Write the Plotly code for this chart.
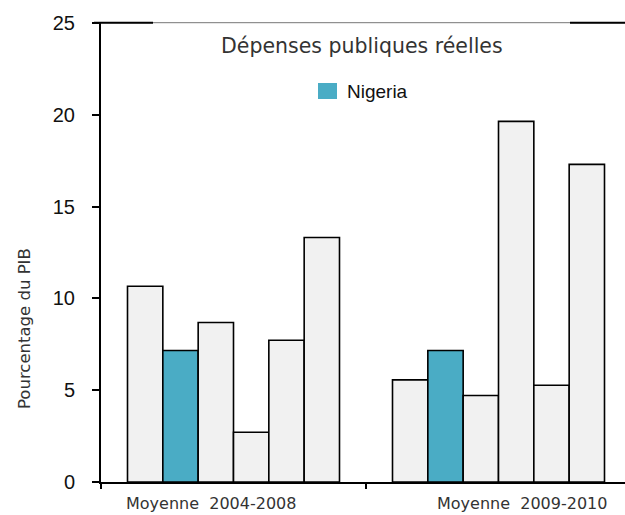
import plotly.graph_objects as go

# ---- data ----
categories = ["Moyenne  2004-2008", "Moyenne  2009-2010"]
series_names = ["Pays 1", "Nigeria", "Pays 3", "Pays 4", "Pays 5", "Pays 6"]
series_values = [
    [10.66, 5.56],   # Pays 1
    [7.16, 7.16],    # Nigeria
    [8.69, 4.71],    # Pays 3
    [2.71, 19.64],   # Pays 4
    [7.72, 5.27],    # Pays 5
    [13.32, 17.30],  # Pays 6
]
y_ticks = [0, 5, 10, 15, 20, 25]
title_text = "Dépenses publiques réelles"
y_title = "Pourcentage du PIB"
legend_label = "Nigeria"

# ---- style ----
W, H = 625, 515
L, R, T, B = 101, 0, 23, 33
plot_w = W - L - R
plot_h = H - T - B
GRAY = "#f1f1f1"
TEAL = "#4aacc5"
cat_px = 265.0


def px(x):
    return (x - L) / plot_w


def py(y):
    return (H - B - y) / plot_h


fig = go.Figure()
for name, vals in zip(series_names, series_values):
    fig.add_trace(go.Bar(
        x=categories, y=vals, name=name,
        marker=dict(color=TEAL if name == "Nigeria" else GRAY,
                    line=dict(color="black", width=1.6)),
        showlegend=False,
    ))

fig.update_layout(
    width=W, height=H,
    margin=dict(l=L, r=R, t=T, b=B),
    paper_bgcolor="white", plot_bgcolor="white",
    barmode="group", bargap=0.2, bargroupgap=0,
    font=dict(family="Liberation Sans, Arial, sans-serif", color="#111"),
)

fig.update_xaxes(
    type="category",
    range=[-0.5, -0.5 + plot_w / cat_px],
    showline=True, linecolor="black", linewidth=2,
    ticks="outside", tickson="boundaries", ticklen=5, tickwidth=1.5,
    tickcolor="black", showticklabels=False, showgrid=False, zeroline=False,
)
fig.update_yaxes(
    range=[0, 25], tickvals=y_ticks,
    showline=True, linecolor="black", linewidth=2,
    ticks="outside", ticklen=7, tickwidth=2, tickcolor="black",
    ticklabelstandoff=13,
    tickfont=dict(family="Liberation Sans, Arial, sans-serif", size=20, color="#111"),
    showgrid=False, zeroline=False,
)

# top frame line (thin gray with thick black ends)
fig.add_shape(type="line", xref="paper", yref="paper",
              x0=px(94), x1=px(625), y0=py(22.7), y1=py(22.7),
              line=dict(color="#777", width=1))
fig.add_shape(type="line", xref="paper", yref="paper",
              x0=px(94), x1=px(153), y0=py(22.7), y1=py(22.7),
              line=dict(color="black", width=2))
fig.add_shape(type="line", xref="paper", yref="paper",
              x0=px(570), x1=px(625), y0=py(22.7), y1=py(22.7),
              line=dict(color="black", width=2))

# title
fig.add_annotation(text=title_text, xref="paper", yref="paper",
                   x=px(361.7), y=py(45.5), xanchor="center", yanchor="middle",
                   showarrow=False,
                   font=dict(family="DejaVu Sans", size=20.5, color="#333"))

# legend (custom)
fig.add_shape(type="rect", xref="paper", yref="paper",
              x0=px(318), x1=px(337), y0=py(99), y1=py(83),
              fillcolor=TEAL, line=dict(width=0))
fig.add_annotation(text=legend_label, xref="paper", yref="paper",
                   x=px(345), y=py(91.5), xanchor="left", yanchor="middle",
                   showarrow=False,
                   font=dict(family="Liberation Sans Narrow, Arial Narrow, Liberation Sans, Arial",
                             size=19, color="#111"))

# y axis title
fig.add_annotation(text=y_title, xref="paper", yref="paper",
                   x=px(24), y=py(329), xanchor="center", yanchor="middle",
                   textangle=-90, showarrow=False,
                   font=dict(family="DejaVu Sans", size=16.5, color="#333"))

# category labels
for lbl, cx in zip(categories, [210.5, 521.7]):
    fig.add_annotation(text=lbl, xref="paper", yref="paper",
                       x=px(cx), y=py(503), xanchor="center", yanchor="middle",
                       showarrow=False,
                       font=dict(family="DejaVu Sans", size=16, color="#333"))

fig.write_html("out.html",
               config={"displayModeBar": False},
               post_script="document.body.style.margin='0';document.body.style.overflow='hidden';")
